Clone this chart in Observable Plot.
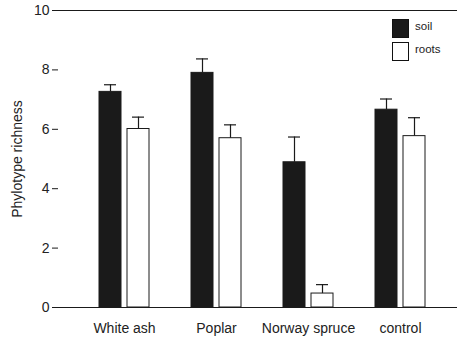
<!DOCTYPE html>
<html>
<head>
<meta charset="utf-8">
<script src="https://cdn.jsdelivr.net/npm/d3@7"></script>
<script src="https://cdn.jsdelivr.net/npm/@observablehq/plot@0.6"></script>
<style>
  body { margin: 0; background: #fff; }
  #wrap { position: relative; width: 457px; height: 339px; font-family: "Liberation Sans", Arial, sans-serif; color: #222; }
  .leg { position: absolute; left: 392px; font-size: 11.5px; }
  .leg .box { position: absolute; left: 0; width: 15px; height: 17px; border: 1px solid #111; }
  .leg .lab { position: absolute; left: 23px; top: 1px; white-space: nowrap; }
</style>
</head>
<body>
<div id="wrap"></div>
<script>
const groups = ["White ash", "Poplar", "Norway spruce", "control"];
const soil = [7.26, 7.90, 4.89, 6.66];
const soilErr = [0.24, 0.47, 0.85, 0.36];
const roots = [6.01, 5.70, 0.47, 5.77];
const rootsErr = [0.40, 0.45, 0.30, 0.62];
const yTicks = [0, 2, 4, 6, 8, 10];
const seriesNames = ["soil", "roots"];
const seriesFill = ["#1a1a1a", "#ffffff"];

const soilData = groups.map((g, i) => ({group: g, value: soil[i], top: soil[i] + soilErr[i]}));
const rootsData = groups.map((g, i) => ({group: g, value: roots[i], top: roots[i] + rootsErr[i]}));

const ink = "#1a1a1a";

const chart = Plot.plot({
  width: 457,
  height: 339,
  marginLeft: 58,
  marginRight: 0,
  marginTop: 10,
  marginBottom: 32,
  style: {fontFamily: "'Liberation Sans', Arial, sans-serif", fontSize: "14px", color: "#222", background: "#fff"},
  x: {type: "band", domain: groups, paddingInner: 0, paddingOuter: 0.16, align: 0.63},
  y: {domain: [0, 10]},
  marks: [
    Plot.frame({anchor: "top", stroke: ink}),
    Plot.barY(soilData, {x: "group", y: "value", fill: seriesFill[0], stroke: ink, strokeWidth: 1, insetLeft: 21, insetRight: 49}),
    Plot.barY(rootsData, {x: "group", y: "value", fill: seriesFill[1], stroke: ink, strokeWidth: 1, insetLeft: 49, insetRight: 21}),
    Plot.ruleX(soilData, {x: "group", y1: "value", y2: "top", dx: -14, stroke: ink, strokeWidth: 1.2}),
    Plot.ruleX(rootsData, {x: "group", y1: "value", y2: "top", dx: 14, stroke: ink, strokeWidth: 1.2}),
    Plot.tickY(soilData, {x: "group", y: "top", insetLeft: 26, insetRight: 54, stroke: ink, strokeWidth: 1.2}),
    Plot.tickY(rootsData, {x: "group", y: "top", insetLeft: 54, insetRight: 26, stroke: ink, strokeWidth: 1.2}),
    Plot.ruleY([0], {stroke: ink, strokeWidth: 1.2}),
    Plot.axisY({ticks: yTicks, tickSize: 6, tickPadding: 3, line: true, stroke: ink, color: "#222",
      label: "Phylotype richness", labelAnchor: "center", labelArrow: "none", labelOffset: 46}),
    Plot.axisX({tickSize: 0, tickPadding: 16, label: null, color: "#222"})
  ]
});

const wrap = document.getElementById("wrap");
wrap.appendChild(chart);

const legTops = [19, 42];
seriesNames.forEach((name, i) => {
  const item = document.createElement("div");
  item.className = "leg";
  item.style.top = legTops[i] + "px";
  const box = document.createElement("div");
  box.className = "box";
  box.style.background = seriesFill[i];
  const lab = document.createElement("div");
  lab.className = "lab";
  lab.textContent = name;
  item.appendChild(box);
  item.appendChild(lab);
  wrap.appendChild(item);
});
</script>
</body>
</html>
